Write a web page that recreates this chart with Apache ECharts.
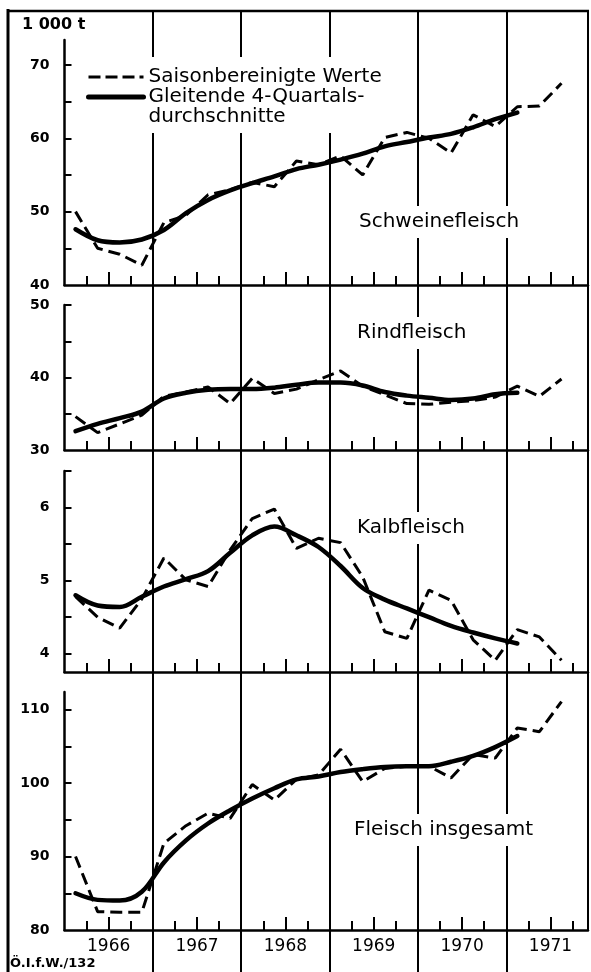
<!DOCTYPE html>
<html>
<head>
<meta charset="utf-8">
<script src="https://cdn.jsdelivr.net/npm/echarts@6/dist/echarts.min.js"></script>
<style>
html, body { margin: 0; padding: 0; background: #fff; }
#chart { width: 591px; height: 972px; }
</style>
</head>
<body>
<div id="chart"></div>
<script>
// Quarterly values in 1 000 t, starting 1966 Q1
const years = [1966, 1967, 1968, 1969, 1970, 1971];

// Saisonbereinigte Werte (1966 Q1 .. 1971 Q3)
const schweinSaison = [50.0, 45.0, 44.2, 42.7, 48.5, 49.5, 52.3, 53.0, 54.0, 53.4, 56.9, 56.4,
    57.6, 55.0, 60.1, 60.8, 60.0, 58.0, 63.2, 61.6, 64.3, 64.4, 67.5];
const rindSaison = [34.6, 32.4, 33.6, 34.8, 37.4, 38.0, 38.7, 36.4, 39.9, 37.8, 38.4, 39.7,
    40.9, 38.8, 37.6, 36.4, 36.3, 36.6, 36.8, 37.3, 38.8, 37.4, 39.8];
const kalbSaison = [4.78, 4.50, 4.35, 4.75, 5.31, 5.01, 4.92, 5.42, 5.85, 5.98, 5.44, 5.58,
    5.52, 5.05, 4.30, 4.21, 4.87, 4.73, 4.19, 3.91, 4.33, 4.23, 3.91];
const fleischSaison = [90.0, 82.5, 82.4, 82.4, 91.8, 94.2, 95.9, 95.2, 99.8, 97.7, 100.5, 101.1,
    104.6, 100.2, 102.0, 102.3, 102.3, 100.7, 103.9, 103.4, 107.5, 107.0, 111.1];

// Gleitende 4-Quartalsdurchschnitte (1966 Q1 .. 1971 Q1)
const schweinGleit = [47.6, 46.1, 45.8, 46.2, 47.5, 49.8, 51.6, 52.9, 53.9, 54.8, 55.8, 56.4,
    57.1, 57.9, 58.9, 59.5, 60.1, 60.6, 61.5, 62.6, 63.5];
const rindGleit = [32.6, 33.6, 34.4, 35.3, 37.1, 37.9, 38.3, 38.4, 38.4, 38.6, 39.0, 39.3,
    39.3, 38.9, 38.0, 37.5, 37.2, 36.9, 37.1, 37.7, 37.9];
const kalbGleit = [4.80, 4.66, 4.64, 4.78, 4.92, 5.02, 5.13, 5.38, 5.62, 5.74, 5.62, 5.46,
    5.20, 4.90, 4.74, 4.62, 4.50, 4.38, 4.29, 4.21, 4.14];
const fleischGleit = [85.0, 84.1, 84.0, 85.2, 89.2, 92.2, 94.5, 96.3, 97.9, 99.3, 100.5, 100.9,
    101.5, 101.9, 102.2, 102.3, 102.3, 102.9, 103.7, 104.9, 106.4];

// y axis ticks and labels
const schweinTicks = [45, 50, 55, 60, 65, 70];
const schweinLabels = [40, 50, 60, 70];
const rindTicks = [35, 40, 45, 50];
const rindLabels = [30, 40, 50];
const kalbTicks = [4, 4.5, 5, 5.5, 6, 6.5];
const kalbLabels = [4, 5, 6];
const fleischTicks = [85, 90, 95, 100, 105, 110];
const fleischLabels = [80, 90, 100, 110];

const SAISON = 'Saisonbereinigte Werte';
const GLEIT = 'Gleitende 4-Quartals-durchschnitte';
const FONT = 'DejaVu Sans';
const X_MAX = 23.7; // right frame edge, counted in quarters from 1966 Q1

const panels = [
    { title: 'Schweinefleisch', saison: schweinSaison, gleit: schweinGleit, ticks: schweinTicks, labels: schweinLabels,
      min: 40, max: 73.4, top: 40, height: 245, titleAt: [355, 222] },
    { title: 'Rindfleisch', saison: rindSaison, gleit: rindGleit, ticks: rindTicks, labels: rindLabels,
      min: 30, max: 50, top: 305, height: 145, titleAt: [353, 333] },
    { title: 'Kalbfleisch', saison: kalbSaison, gleit: kalbGleit, ticks: kalbTicks, labels: kalbLabels,
      min: 3.75, max: 6.5, top: 471, height: 201, titleAt: [353, 528] },
    { title: 'Fleisch insgesamt', saison: fleischSaison, gleit: fleischGleit, ticks: fleischTicks, labels: fleischLabels,
      min: 80, max: 112.4, top: 692, height: 238, titleAt: [350, 830] }
];

// quarter boundaries inside each year (the mid-year one drawn longer), and year middles for the labels
const quarterTicks = [];
years.forEach((y, k) => { quarterTicks.push(k * 4 + 1, k * 4 + 3); });
const yearCenters = years.map((y, k) => k * 4 + 2);

const pts = arr => arr.map((v, i) => [i + 0.5, v]);

const grids = [{ left: 64.5, right: 3, top: 10, bottom: 0, outerBoundsMode: 'none' }];
const xAxes = [{
    gridIndex: 0, type: 'value', min: 0, max: X_MAX, interval: 4,
    axisLine: { show: false }, axisTick: { show: false }, axisLabel: { show: false },
    splitLine: { show: true, showMinLine: false, showMaxLine: false, lineStyle: { color: '#000', width: 2 } }
}];
const yAxes = [{ gridIndex: 0, type: 'value', show: false, splitLine: { show: false } }];
const series = [];

panels.forEach((p, n) => {
    const k = n + 1;
    const last = n === panels.length - 1;
    grids.push({ left: 64.5, right: 3, top: p.top, height: p.height, outerBoundsMode: 'none' });
    const xIndex = xAxes.length;
    xAxes.push({
        gridIndex: k, type: 'value', position: 'bottom', min: 0, max: X_MAX,
        axisLine: { show: true, onZero: false, lineStyle: { color: '#000', width: 2.5 } },
        axisTick: { show: true, inside: true, length: 9, customValues: quarterTicks, lineStyle: { color: '#000', width: 2 } },
        axisLabel: {
            show: last, customValues: yearCenters, margin: 8, color: '#000', fontSize: 17, fontFamily: FONT,
            formatter: v => String(years[Math.round((v - 2) / 4)])
        },
        splitLine: { show: false }
    });
    // second bottom axis on the same line, only for the longer mid-year ticks
    xAxes.push({
        gridIndex: k, type: 'value', position: 'bottom', offset: 0, min: 0, max: X_MAX,
        axisLine: { show: false, onZero: false },
        axisTick: { show: true, inside: true, length: 13, customValues: yearCenters, lineStyle: { color: '#000', width: 2 } },
        axisLabel: { show: false },
        splitLine: { show: false }
    });
    yAxes.push({
        gridIndex: k, type: 'value', min: p.min, max: p.max,
        axisLine: { show: true, onZero: false, lineStyle: { color: '#000', width: 2.5 } },
        axisTick: { show: true, inside: true, length: 7, customValues: p.ticks, lineStyle: { color: '#000', width: 2 } },
        axisLabel: { customValues: p.labels, margin: 15, color: '#000', fontSize: 14, fontWeight: 'bold', fontFamily: FONT },
        splitLine: { show: false }
    });
    series.push({
        type: 'line', name: SAISON, xAxisIndex: xIndex, yAxisIndex: k, data: pts(p.saison),
        symbol: 'none', z: 3, itemStyle: { color: '#000' },
        lineStyle: { color: '#000', width: 3, type: [12, 6] }
    });
    series.push({
        type: 'line', name: GLEIT, xAxisIndex: xIndex, yAxisIndex: k, data: pts(p.gleit),
        symbol: 'none', smooth: 0.35, z: 3, itemStyle: { color: '#000' },
        lineStyle: { color: '#000', width: 4.5, type: 'solid', cap: 'round' }
    });
});

const graphic = [
    { type: 'line', z: 5, shape: { x1: 8, y1: 9, x2: 8, y2: 972 }, style: { stroke: '#000', lineWidth: 3 } },
    { type: 'line', z: 5, shape: { x1: 7, y1: 11, x2: 589, y2: 11 }, style: { stroke: '#000', lineWidth: 2.5 } },
    { type: 'line', z: 5, shape: { x1: 588, y1: 10, x2: 588, y2: 931 }, style: { stroke: '#000', lineWidth: 2 } },
    { type: 'text', z: 5, x: 22, y: 25, style: { text: '1 000 t', fill: '#000', fontSize: 16, fontWeight: 'bold', fontFamily: FONT, verticalAlign: 'middle' } },
    { type: 'text', z: 5, x: 10, y: 964, style: { text: 'Ö.I.f.W./132', fill: '#000', fontSize: 13, fontWeight: 'bold', fontFamily: FONT, verticalAlign: 'middle' } }
];
panels.forEach(p => {
    graphic.push({
        type: 'text', z: 1, x: p.titleAt[0], y: p.titleAt[1],
        style: {
            text: p.title, fill: '#000', fontSize: 20, fontFamily: FONT, verticalAlign: 'middle',
            backgroundColor: '#fff', padding: [6, 4]
        }
    });
});

const chart = echarts.init(document.getElementById('chart'), null, { renderer: 'canvas' });
chart.setOption({
    animation: false,
    backgroundColor: '#fff',
    grid: grids,
    xAxis: xAxes,
    yAxis: yAxes,
    legend: {
        orient: 'vertical', left: 81, top: 57, padding: [10, 5, 6, 5],
        itemWidth: 55, itemHeight: 14, itemGap: -20,
        backgroundColor: '#fff', selectedMode: false,
        itemStyle: { opacity: 0 },
        textStyle: { color: '#000', fontSize: 20, fontFamily: FONT, lineHeight: 20 },
        data: [
            { name: SAISON, lineStyle: { color: '#000', width: 3, type: [12, 5] } },
            { name: GLEIT, lineStyle: { color: '#000', width: 5, type: 'solid' } }
        ],
        // leading blank line keeps the first text line level with the line sample
        formatter: name => name === GLEIT ? ' \nGleitende 4-Quartals-\ndurchschnitte' : name
    },
    graphic: graphic,
    series: series
});
</script>
</body>
</html>
